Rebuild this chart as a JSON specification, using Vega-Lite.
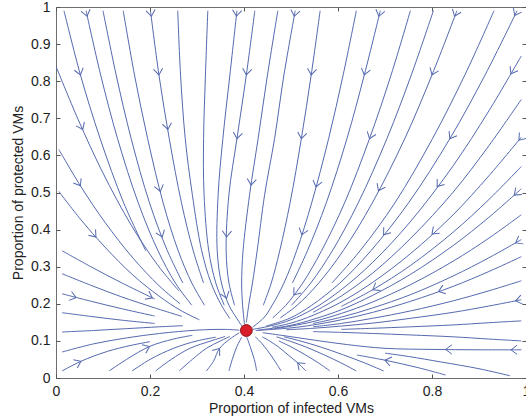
{
"$schema":"https://vega.github.io/schema/vega-lite/v6.json",
"width":470,"height":371,
"autosize":{"type":"none"},
"padding":{"left":56,"top":7,"right":0,"bottom":38},
"config":{"view":{"stroke":"#6e6e6e","strokeWidth":1},"font":"Liberation Sans",
"axis":{"grid":false,"domain":false,"tickColor":"#555","tickSize":-4,"labelFontSize":14,"labelColor":"#222","titleFontSize":14,"titleFontWeight":"normal","titleColor":"#222","labelFont":"Liberation Sans","titleFont":"Liberation Sans","labelFlush":false}},
"datasets":{
"lines":[
{"id":"T1","x":0.017,"y":0.99},{"id":"T1","x":0.052,"y":0.817},{"id":"T1","x":0.094,"y":0.645},{"id":"T1","x":0.144,"y":0.472},{"id":"T1","x":0.191,"y":0.343},
{"id":"T2","x":0.064,"y":0.99},{"id":"T2","x":0.095,"y":0.817},{"id":"T2","x":0.131,"y":0.645},{"id":"T2","x":0.175,"y":0.472},{"id":"T2","x":0.217,"y":0.343},{"id":"T2","x":0.254,"y":0.256},{"id":"T2","x":0.289,"y":0.196},
{"id":"T3","x":0.100,"y":0.99},{"id":"T3","x":0.128,"y":0.817},{"id":"T3","x":0.160,"y":0.645},{"id":"T3","x":0.199,"y":0.472},{"id":"T3","x":0.237,"y":0.343},{"id":"T3","x":0.270,"y":0.256},
{"id":"T4","x":0.143,"y":0.99},{"id":"T4","x":0.167,"y":0.817},{"id":"T4","x":0.195,"y":0.645},{"id":"T4","x":0.228,"y":0.472},{"id":"T4","x":0.260,"y":0.343},{"id":"T4","x":0.289,"y":0.256},{"id":"T4","x":0.316,"y":0.196},
{"id":"T5","x":0.201,"y":0.99},{"id":"T5","x":0.219,"y":0.817},{"id":"T5","x":0.241,"y":0.645},{"id":"T5","x":0.267,"y":0.472},{"id":"T5","x":0.292,"y":0.343},{"id":"T5","x":0.314,"y":0.256},
{"id":"T6","x":0.259,"y":0.99},{"id":"T6","x":0.265,"y":0.817},{"id":"T6","x":0.275,"y":0.645},{"id":"T6","x":0.290,"y":0.495},{"id":"T6","x":0.310,"y":0.343},{"id":"T6","x":0.330,"y":0.256},{"id":"T6","x":0.352,"y":0.196},{"id":"T6","x":0.370,"y":0.16},
{"id":"T7","x":0.323,"y":0.99},{"id":"T7","x":0.318,"y":0.817},{"id":"T7","x":0.314,"y":0.645},{"id":"T7","x":0.315,"y":0.495},{"id":"T7","x":0.325,"y":0.343},{"id":"T7","x":0.340,"y":0.256},{"id":"T7","x":0.358,"y":0.196},
{"id":"T8","x":0.385,"y":0.99},{"id":"T8","x":0.370,"y":0.817},{"id":"T8","x":0.355,"y":0.645},{"id":"T8","x":0.345,"y":0.495},{"id":"T8","x":0.343,"y":0.343},{"id":"T8","x":0.352,"y":0.256},{"id":"T8","x":0.368,"y":0.196},{"id":"T8","x":0.385,"y":0.16},{"id":"T8","x":0.398,"y":0.135},
{"id":"T9","x":0.423,"y":0.99},{"id":"T9","x":0.405,"y":0.817},{"id":"T9","x":0.385,"y":0.645},{"id":"T9","x":0.368,"y":0.495},{"id":"T9","x":0.362,"y":0.343},{"id":"T9","x":0.368,"y":0.256},{"id":"T9","x":0.380,"y":0.196},
{"id":"T10","x":0.472,"y":0.99},{"id":"T10","x":0.450,"y":0.817},{"id":"T10","x":0.430,"y":0.645},{"id":"T10","x":0.412,"y":0.495},{"id":"T10","x":0.398,"y":0.343},{"id":"T10","x":0.395,"y":0.256},{"id":"T10","x":0.397,"y":0.196},{"id":"T10","x":0.401,"y":0.145},
{"id":"T11","x":0.509,"y":0.99},{"id":"T11","x":0.485,"y":0.817},{"id":"T11","x":0.465,"y":0.645},{"id":"T11","x":0.444,"y":0.495},{"id":"T11","x":0.428,"y":0.343},{"id":"T11","x":0.418,"y":0.256},{"id":"T11","x":0.410,"y":0.196},{"id":"T11","x":0.405,"y":0.15},
{"id":"T12","x":0.562,"y":0.99},{"id":"T12","x":0.543,"y":0.817},{"id":"T12","x":0.522,"y":0.645},{"id":"T12","x":0.498,"y":0.472},{"id":"T12","x":0.476,"y":0.343},{"id":"T12","x":0.458,"y":0.256},{"id":"T12","x":0.441,"y":0.196},
{"id":"T13","x":0.639,"y":0.99},{"id":"T13","x":0.611,"y":0.817},{"id":"T13","x":0.580,"y":0.645},{"id":"T13","x":0.544,"y":0.472},{"id":"T13","x":0.512,"y":0.343},{"id":"T13","x":0.485,"y":0.256},{"id":"T13","x":0.460,"y":0.196},{"id":"T13","x":0.442,"y":0.162},{"id":"T13","x":0.418,"y":0.137},
{"id":"T14","x":0.690,"y":0.99},{"id":"T14","x":0.656,"y":0.817},{"id":"T14","x":0.619,"y":0.645},{"id":"T14","x":0.575,"y":0.472},{"id":"T14","x":0.535,"y":0.343},{"id":"T14","x":0.503,"y":0.256},
{"id":"T15","x":0.754,"y":0.99},{"id":"T15","x":0.713,"y":0.817},{"id":"T15","x":0.667,"y":0.645},{"id":"T15","x":0.614,"y":0.472},{"id":"T15","x":0.565,"y":0.343},{"id":"T15","x":0.525,"y":0.256},{"id":"T15","x":0.489,"y":0.196},{"id":"T15","x":0.461,"y":0.162},
{"id":"T16","x":0.803,"y":0.99},{"id":"T16","x":0.756,"y":0.817},{"id":"T16","x":0.704,"y":0.645},{"id":"T16","x":0.643,"y":0.472},{"id":"T16","x":0.588,"y":0.343},{"id":"T16","x":0.542,"y":0.256},{"id":"T16","x":0.501,"y":0.196},
{"id":"T17","x":0.853,"y":0.99},{"id":"T17","x":0.800,"y":0.817},{"id":"T17","x":0.742,"y":0.645},{"id":"T17","x":0.673,"y":0.472},{"id":"T17","x":0.611,"y":0.343},{"id":"T17","x":0.559,"y":0.256},{"id":"T17","x":0.513,"y":0.196},{"id":"T17","x":0.477,"y":0.162},
{"id":"T18","x":0.932,"y":0.99},{"id":"T18","x":0.870,"y":0.817},{"id":"T18","x":0.801,"y":0.645},{"id":"T18","x":0.721,"y":0.472},{"id":"T18","x":0.647,"y":0.343},{"id":"T18","x":0.587,"y":0.256},
{"id":"T19","x":0.981,"y":0.99},{"id":"T19","x":0.913,"y":0.817},{"id":"T19","x":0.838,"y":0.645},{"id":"T19","x":0.750,"y":0.472},{"id":"T19","x":0.670,"y":0.343},{"id":"T19","x":0.604,"y":0.256},{"id":"T19","x":0.544,"y":0.196},{"id":"T19","x":0.499,"y":0.162},{"id":"T19","x":0.447,"y":0.140},
{"id":"R1","x":0.99,"y":0.868},{"id":"R1","x":0.921,"y":0.720},{"id":"R1","x":0.845,"y":0.572},{"id":"R1","x":0.755,"y":0.423},{"id":"R1","x":0.674,"y":0.312},{"id":"R1","x":0.607,"y":0.238},{"id":"R1","x":0.547,"y":0.186},{"id":"R1","x":0.500,"y":0.157},{"id":"R1","x":0.455,"y":0.140},{"id":"R1","x":0.418,"y":0.131},
{"id":"R2","x":0.99,"y":0.751},{"id":"R2","x":0.921,"y":0.626},{"id":"R2","x":0.845,"y":0.501},{"id":"R2","x":0.755,"y":0.377},{"id":"R2","x":0.674,"y":0.283},{"id":"R2","x":0.607,"y":0.221},{"id":"R2","x":0.547,"y":0.177},
{"id":"R3","x":0.99,"y":0.649},{"id":"R3","x":0.921,"y":0.545},{"id":"R3","x":0.845,"y":0.440},{"id":"R3","x":0.755,"y":0.336},{"id":"R3","x":0.674,"y":0.258},{"id":"R3","x":0.607,"y":0.205},{"id":"R3","x":0.547,"y":0.169},{"id":"R3","x":0.500,"y":0.148},{"id":"R3","x":0.460,"y":0.137},
{"id":"R4","x":0.99,"y":0.57},{"id":"R4","x":0.921,"y":0.481},{"id":"R4","x":0.845,"y":0.393},{"id":"R4","x":0.755,"y":0.304},{"id":"R4","x":0.674,"y":0.238},{"id":"R4","x":0.607,"y":0.193},
{"id":"R5","x":0.99,"y":0.51},{"id":"R5","x":0.921,"y":0.433},{"id":"R5","x":0.845,"y":0.357},{"id":"R5","x":0.755,"y":0.280},{"id":"R5","x":0.674,"y":0.223},{"id":"R5","x":0.607,"y":0.184},{"id":"R5","x":0.547,"y":0.158},{"id":"R5","x":0.500,"y":0.142},{"id":"R5","x":0.430,"y":0.129},
{"id":"R6","x":0.99,"y":0.44},{"id":"R6","x":0.921,"y":0.377},{"id":"R6","x":0.845,"y":0.315},{"id":"R6","x":0.755,"y":0.252},{"id":"R6","x":0.674,"y":0.205},{"id":"R6","x":0.607,"y":0.174},{"id":"R6","x":0.547,"y":0.152},{"id":"R6","x":0.500,"y":0.140},{"id":"R6","x":0.465,"y":0.133},
{"id":"R7","x":0.99,"y":0.373},{"id":"R7","x":0.921,"y":0.324},{"id":"R7","x":0.845,"y":0.275},{"id":"R7","x":0.755,"y":0.225},{"id":"R7","x":0.674,"y":0.189},{"id":"R7","x":0.607,"y":0.164},{"id":"R7","x":0.547,"y":0.147},
{"id":"R8","x":0.99,"y":0.327},{"id":"R8","x":0.921,"y":0.287},{"id":"R8","x":0.845,"y":0.247},{"id":"R8","x":0.755,"y":0.207},{"id":"R8","x":0.674,"y":0.177},{"id":"R8","x":0.607,"y":0.157},{"id":"R8","x":0.547,"y":0.143},{"id":"R8","x":0.500,"y":0.135},{"id":"R8","x":0.425,"y":0.128},
{"id":"R9","x":0.99,"y":0.262},{"id":"R9","x":0.921,"y":0.235},{"id":"R9","x":0.845,"y":0.208},{"id":"R9","x":0.755,"y":0.181},{"id":"R9","x":0.674,"y":0.161},{"id":"R9","x":0.607,"y":0.147},{"id":"R9","x":0.547,"y":0.138},
{"id":"R10","x":0.99,"y":0.211},{"id":"R10","x":0.921,"y":0.194},{"id":"R10","x":0.845,"y":0.177},{"id":"R10","x":0.755,"y":0.161},{"id":"R10","x":0.674,"y":0.148},{"id":"R10","x":0.607,"y":0.140},{"id":"R10","x":0.547,"y":0.134},{"id":"R10","x":0.490,"y":0.130},
{"id":"R11","x":0.99,"y":0.154},{"id":"R11","x":0.921,"y":0.149},{"id":"R11","x":0.845,"y":0.143},{"id":"R11","x":0.755,"y":0.138},{"id":"R11","x":0.674,"y":0.134},{"id":"R11","x":0.607,"y":0.131},
{"id":"R12","x":0.99,"y":0.10},{"id":"R12","x":0.921,"y":0.105},{"id":"R12","x":0.845,"y":0.111},{"id":"R12","x":0.755,"y":0.116},{"id":"R12","x":0.674,"y":0.120},{"id":"R12","x":0.607,"y":0.123},{"id":"R12","x":0.547,"y":0.125},
{"id":"R13","x":0.99,"y":0.076},{"id":"R13","x":0.90,"y":0.076},{"id":"R13","x":0.80,"y":0.077},{"id":"R13","x":0.70,"y":0.080},{"id":"R13","x":0.62,"y":0.09},{"id":"R13","x":0.55,"y":0.102},{"id":"R13","x":0.48,"y":0.115},{"id":"R13","x":0.44,"y":0.122},
{"id":"R14","x":0.966,"y":0.006},{"id":"R14","x":0.90,"y":0.025},{"id":"R14","x":0.82,"y":0.043},{"id":"R14","x":0.75,"y":0.058},{"id":"R14","x":0.70,"y":0.067},
{"id":"BR6","x":0.829,"y":0.008},{"id":"BR6","x":0.77,"y":0.028},{"id":"BR6","x":0.70,"y":0.048},{"id":"BR6","x":0.64,"y":0.062},
{"id":"BR5","x":0.697,"y":0.019},{"id":"BR5","x":0.656,"y":0.041},{"id":"BR5","x":0.612,"y":0.062},{"id":"BR5","x":0.562,"y":0.084},{"id":"BR5","x":0.519,"y":0.100},{"id":"BR5","x":0.485,"y":0.111},
{"id":"BR4","x":0.639,"y":0.019},{"id":"BR4","x":0.606,"y":0.041},{"id":"BR4","x":0.571,"y":0.062},{"id":"BR4","x":0.531,"y":0.084},{"id":"BR4","x":0.496,"y":0.100},{"id":"BR4","x":0.469,"y":0.111},
{"id":"BR3","x":0.583,"y":0.019},{"id":"BR3","x":0.558,"y":0.041},{"id":"BR3","x":0.531,"y":0.062},{"id":"BR3","x":0.500,"y":0.084},{"id":"BR3","x":0.474,"y":0.100},
{"id":"BR2","x":0.532,"y":0.019},{"id":"BR2","x":0.514,"y":0.041},{"id":"BR2","x":0.494,"y":0.062},{"id":"BR2","x":0.473,"y":0.084},{"id":"BR2","x":0.454,"y":0.100},{"id":"BR2","x":0.439,"y":0.111},
{"id":"BR1","x":0.479,"y":0.019},{"id":"BR1","x":0.468,"y":0.041},{"id":"BR1","x":0.457,"y":0.062},{"id":"BR1","x":0.444,"y":0.084},{"id":"BR1","x":0.433,"y":0.100},{"id":"BR1","x":0.424,"y":0.111},
{"id":"L084","x":0.0,"y":0.84},{"id":"L084","x":0.047,"y":0.697},{"id":"L084","x":0.099,"y":0.555},{"id":"L084","x":0.160,"y":0.412},{"id":"L084","x":0.216,"y":0.305},{"id":"L084","x":0.262,"y":0.234},
{"id":"L062","x":0.006,"y":0.616},{"id":"L062","x":0.052,"y":0.518},{"id":"L062","x":0.104,"y":0.420},{"id":"L062","x":0.164,"y":0.323},{"id":"L062","x":0.219,"y":0.249},{"id":"L062","x":0.264,"y":0.200},
{"id":"L051","x":0.006,"y":0.503},{"id":"L051","x":0.052,"y":0.428},{"id":"L051","x":0.104,"y":0.353},{"id":"L051","x":0.164,"y":0.277},{"id":"L051","x":0.219,"y":0.221},{"id":"L051","x":0.264,"y":0.183},{"id":"L051","x":0.305,"y":0.157},
{"id":"L034","x":0.013,"y":0.343},{"id":"L034","x":0.074,"y":0.300},{"id":"L034","x":0.139,"y":0.257},{"id":"L034","x":0.210,"y":0.213},
{"id":"L028","x":0.013,"y":0.281},{"id":"L028","x":0.074,"y":0.250},{"id":"L028","x":0.139,"y":0.219},{"id":"L028","x":0.210,"y":0.189},{"id":"L028","x":0.268,"y":0.166},
{"id":"L023","x":0.013,"y":0.227},{"id":"L023","x":0.074,"y":0.207},{"id":"L023","x":0.139,"y":0.187},{"id":"L023","x":0.210,"y":0.167},
{"id":"L018","x":0.013,"y":0.176},{"id":"L018","x":0.074,"y":0.166},{"id":"L018","x":0.139,"y":0.156},{"id":"L018","x":0.210,"y":0.147},
{"id":"L012","x":0.013,"y":0.124},{"id":"L012","x":0.08,"y":0.128},{"id":"L012","x":0.15,"y":0.133},{"id":"L012","x":0.22,"y":0.138},{"id":"L012","x":0.27,"y":0.141},
{"id":"L007","x":0.013,"y":0.070},{"id":"L007","x":0.08,"y":0.092},{"id":"L007","x":0.15,"y":0.108},{"id":"L007","x":0.22,"y":0.120},{"id":"L007","x":0.30,"y":0.129},{"id":"L007","x":0.36,"y":0.131},{"id":"L007","x":0.39,"y":0.129},
{"id":"L002","x":0.013,"y":0.019},{"id":"L002","x":0.053,"y":0.045},{"id":"L002","x":0.11,"y":0.072},{"id":"L002","x":0.16,"y":0.088},{"id":"L002","x":0.20,"y":0.098},
{"id":"B1","x":0.113,"y":0.019},{"id":"B1","x":0.15,"y":0.05},{"id":"B1","x":0.199,"y":0.085},{"id":"B1","x":0.25,"y":0.105},{"id":"B1","x":0.29,"y":0.115},
{"id":"B2","x":0.162,"y":0.019},{"id":"B2","x":0.2,"y":0.05},{"id":"B2","x":0.25,"y":0.08},{"id":"B2","x":0.30,"y":0.10},{"id":"B2","x":0.34,"y":0.11},
{"id":"B3","x":0.212,"y":0.019},{"id":"B3","x":0.245,"y":0.05},{"id":"B3","x":0.285,"y":0.08},{"id":"B3","x":0.33,"y":0.10},{"id":"B3","x":0.36,"y":0.112},
{"id":"B4","x":0.262,"y":0.019},{"id":"B4","x":0.29,"y":0.05},{"id":"B4","x":0.32,"y":0.08},{"id":"B4","x":0.35,"y":0.10},{"id":"B4","x":0.37,"y":0.112},
{"id":"B5","x":0.320,"y":0.019},{"id":"B5","x":0.335,"y":0.045},{"id":"B5","x":0.348,"y":0.08},{"id":"B5","x":0.37,"y":0.105},{"id":"B5","x":0.39,"y":0.122},
{"id":"B6","x":0.368,"y":0.019},{"id":"B6","x":0.375,"y":0.05},{"id":"B6","x":0.385,"y":0.085},{"id":"B6","x":0.395,"y":0.11},
{"id":"B7","x":0.427,"y":0.019},{"id":"B7","x":0.422,"y":0.05},{"id":"B7","x":0.413,"y":0.085},{"id":"B7","x":0.406,"y":0.11}
],
"arrows":[
{"x":0.066,"y":0.975,"a":77},{"x":0.203,"y":0.975,"a":82},{"x":0.384,"y":0.975,"a":96},{"x":0.507,"y":0.975,"a":100},{"x":0.687,"y":0.975,"a":104},{"x":0.848,"y":0.975,"a":111},{"x":0.976,"y":0.977,"a":117},
{"x":0.052,"y":0.817,"a":74},{"x":0.219,"y":0.817,"a":82},{"x":0.405,"y":0.817,"a":98},{"x":0.543,"y":0.817,"a":98},{"x":0.656,"y":0.817,"a":104},{"x":0.800,"y":0.817,"a":112},{"x":0.968,"y":0.82,"a":120},
{"x":0.057,"y":0.67,"a":65},{"x":0.238,"y":0.67,"a":81},{"x":0.385,"y":0.645,"a":99},{"x":0.522,"y":0.645,"a":99},{"x":0.667,"y":0.645,"a":110},{"x":0.838,"y":0.645,"a":121},{"x":0.985,"y":0.641,"a":130},
{"x":0.052,"y":0.518,"a":58},{"x":0.222,"y":0.503,"a":76},{"x":0.415,"y":0.52,"a":97},{"x":0.553,"y":0.515,"a":105},{"x":0.686,"y":0.505,"a":117},{"x":0.811,"y":0.516,"a":127},{"x":0.975,"y":0.493,"a":138},
{"x":0.085,"y":0.38,"a":50},{"x":0.226,"y":0.38,"a":70},{"x":0.363,"y":0.38,"a":93},{"x":0.523,"y":0.386,"a":107},{"x":0.697,"y":0.386,"a":128},{"x":0.80,"y":0.388,"a":137},{"x":0.978,"y":0.364,"a":150},
{"x":0.043,"y":0.217,"a":15},{"x":0.205,"y":0.216,"a":26},{"x":0.363,"y":0.215,"a":71},{"x":0.506,"y":0.224,"a":128},{"x":0.674,"y":0.238,"a":149},{"x":0.814,"y":0.233,"a":160},{"x":0.978,"y":0.208,"a":169},
{"x":0.053,"y":0.045,"a":-25},{"x":0.199,"y":0.085,"a":-24},{"x":0.348,"y":0.08,"a":-54},{"x":0.514,"y":0.041,"a":-138},{"x":0.70,"y":0.048,"a":-168},{"x":0.829,"y":0.077,"a":180},{"x":0.968,"y":0.076,"a":180}
],
"eq":[{"x":0.405,"y":0.128}]
},
"layer":[
{"data":{"name":"lines"},
 "mark":{"type":"line","interpolate":"catmull-rom","color":"#5569ae","strokeWidth":1,"clip":true},
 "encoding":{
  "x":{"field":"x","type":"quantitative","scale":{"domain":[0,1],"nice":false},"axis":{"values":[0,0.2,0.4,0.6,0.8,1],"format":"~g","labelPadding":10,"title":"Proportion of infected VMs","titlePadding":3}},
  "y":{"field":"y","type":"quantitative","scale":{"domain":[0,1],"nice":false},"axis":{"values":[0,0.1,0.2,0.3,0.4,0.5,0.6,0.7,0.8,0.9,1],"format":"~g","labelPadding":10,"title":"Proportion of protected VMs","titlePadding":5}},
  "detail":{"field":"id"},
  "order":{"value":null}}},
{"data":{"name":"arrows"},
 "mark":{"type":"point","shape":"M-1,-0.75L0,0L-1,0.75","filled":false,"stroke":"#5569ae","strokeWidth":1,"size":150,"opacity":1,"clip":true},
 "encoding":{
  "x":{"field":"x","type":"quantitative","axis":{"orient":"top","values":[0,0.2,0.4,0.6,0.8,1],"labels":false,"title":null}},
  "y":{"field":"y","type":"quantitative","axis":{"orient":"right","values":[0,0.1,0.2,0.3,0.4,0.5,0.6,0.7,0.8,0.9,1],"labels":false,"title":null}},
  "angle":{"field":"a","type":"quantitative","scale":null}}},
{"data":{"name":"eq"},
 "mark":{"type":"point","shape":"circle","filled":true,"fill":"#d9202a","stroke":"#8e141a","strokeWidth":1,"size":140,"opacity":1},
 "encoding":{
  "x":{"field":"x","type":"quantitative","axis":null},
  "y":{"field":"y","type":"quantitative","axis":null}}}
],
"resolve":{"axis":{"x":"independent","y":"independent"}}
}
